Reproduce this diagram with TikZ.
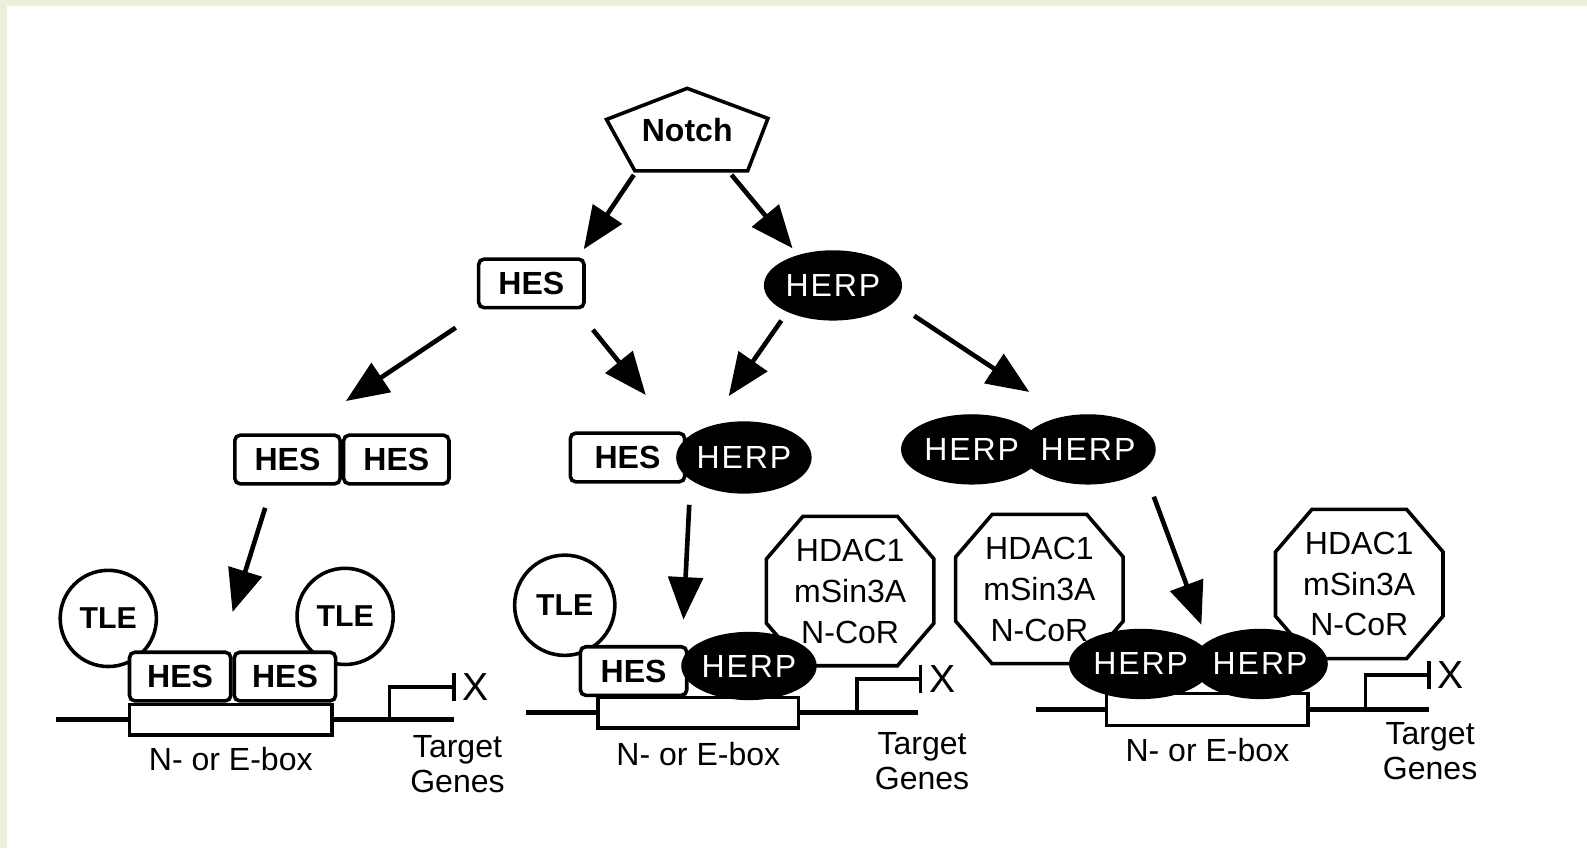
\documentclass[tikz,border=0pt]{standalone}
\usepackage{fontspec}
\setmainfont{Liberation Sans}
\setsansfont{Liberation Sans}
\usetikzlibrary{calc}
\usetikzlibrary{arrows.meta}
\usetikzlibrary{shapes.geometric}
\definecolor{slidegreen}{RGB}{234,239,220}
\tikzset{
  lbl/.style={font=\fontsize{9}{10}\selectfont, inner sep=0pt, align=center},
  bigx/.style={font=\fontsize{11}{12}\selectfont, inner sep=0pt},
  hesbox/.style={draw, line width=1pt, fill=white, rounded corners=1.5pt, minimum width=1.04cm, minimum height=0.48cm, inner sep=0pt, font=\bfseries\fontsize{9}{10}\selectfont},
  herpblob/.style={ellipse, fill=black, draw=black, inner sep=0pt, minimum width=1.32cm, minimum height=0.68cm, text=white, font=\fontsize{9}{10}\selectfont\addfontfeature{LetterSpace=6}},
  tlecirc/.style={circle, draw, line width=1pt, fill=white, minimum size=0.95cm, inner sep=0pt, font=\bfseries\fontsize{8.5}{10}\selectfont},
  hdacbox/.style={inner sep=0pt, minimum width=1.64cm, minimum height=1.46cm},
  hdactxt/.style={lbl, font=\fontsize{9}{11.5}\selectfont},
  eboxrect/.style={draw, line width=1pt, fill=white, minimum width=2.0cm, minimum height=0.30cm, inner sep=0pt},
  dna/.style={line width=1.3pt},
  promo/.style={line width=1pt, -{Bar[width=0.28cm]}},
  arr/.style={line width=1.3pt, -{Triangle[length=0.42cm,width=0.34cm]}},
}
% octagon round a named node (corner cuts in px)
\def\cutX{36}
\def\cutY{42}
\newcommand{\hdacoct}[1]{%
  \draw[line width=1pt, fill=white]
    ($(#1.north west)+(\cutX,0)$) -- ($(#1.north east)+(-\cutX,0)$)
    -- ($(#1.north east)+(0,\cutY)$) -- ($(#1.south east)+(0,-\cutY)$)
    -- ($(#1.south east)+(-\cutX,0)$) -- ($(#1.south west)+(\cutX,0)$)
    -- ($(#1.south west)+(0,-\cutY)$) -- ($(#1.north west)+(0,\cutY)$) -- cycle;}
\begin{document}
\begin{tikzpicture}[x=0.01cm,y=-0.01cm]
% slide frame
\fill[slidegreen] (0,0) rectangle (1568,838);
\fill[white] (7,6) rectangle (1568,838);
\useasboundingbox (0,0) rectangle (1568,838);

% Notch and its two targets
\node[lbl, font=\bfseries\fontsize{9}{10}\selectfont, minimum width=1.58cm, minimum height=0.8cm] (notch) at (679,128) {Notch};
\draw[line width=1pt] (notch.north) -- ($(notch.west)+(0,-10)$) -- ($(notch.south west)+(28,0)$) -- ($(notch.south east)+(-20,0)$) -- ($(notch.east)+(0,-11)$) -- cycle;
\node[hesbox] (hes) at (525,280) {HES};
\node[herpblob, minimum width=1.35cm] (herp) at (823,282) {HERP};
\draw[arr] ($(notch.south west)+(27,4)$) -- ($(hes.north east)+(-2,-8)$);
\draw[arr] ($(notch.south east)+(-36,4)$) -- ($(herp.north)+(-40,-2)$);

% dimers
\node[hesbox] (hesA) at (284,454) {HES};
\node[hesbox, anchor=west] (hesB) at (hesA.east) {HES};
\node[hesbox, minimum width=1.13cm] (hesC) at (620,452) {HES};
\node[herpblob, minimum height=0.7cm] (herpC) at (735,452) {HERP};
\node[herpblob, minimum width=1.38cm] (herpD) at (960,444) {HERP};
\node[herpblob, minimum width=1.25cm] (herpE) at (1075,444) {HERP};
\draw[arr] ($(hes.south west)+(-21,18)$) -- ($(hesA.north east)+(4,-32)$);
\draw[arr] ($(hes.south east)+(7,20)$) -- ($(hesC.north)+(18,-36)$);
\draw[arr] ($(herp.south)+(-51,0)$) -- ($(herpC.north)+(-15,-25)$);
\draw[arr] ($(herp.east)+(12,30)$) -- ($(herpD.north)+(57,-22)$);

% panel 1: HES-HES with TLE
\node[eboxrect] (ebox1) at (228,711) {};
\draw[dna] (ebox1.west) -- ++(-71,0);
\draw[dna] (ebox1.east) -- ++(119,0);
\node[tlecirc] (tle1a) at (107,611) {TLE};
\node[tlecirc] (tle1b) at (341,609) {TLE};
\node[hesbox, minimum width=1.0cm, anchor=south west] (hes1a) at (ebox1.north west) {HES};
\node[hesbox, minimum width=1.0cm, anchor=west] (hes1b) at (hes1a.east) {HES};
\node[bigx] (x1) at (470,679) {X};
\draw[promo] ($(ebox1.east)+(55,0)$) |- ($(x1.west)+(-6,0)$);
\node[lbl] (box1lbl) at ($(ebox1.south)+(0,22)$) {N- or E-box};
\node[lbl] (tg1) at (452,755) {Target\\Genes};
\draw[arr] ($(hesA.south)+(-22,22)$) -- ($(hes1a.north east)+(0,-38)$);

% panel 2: HES-HERP
\node[eboxrect, minimum width=1.98cm] (ebox2) at (690,704) {};
\draw[dna] (ebox2.west) -- ++(-69,0);
\draw[dna] (ebox2.east) -- ++(116,0);
\node[tlecirc, minimum size=0.99cm] (tle2) at (558,598) {TLE};
\node[hdacbox] (hdac2) at (840,584) {};
\hdacoct{hdac2}
\node[hdactxt] (hdac2txt) at (hdac2) {HDAC1\\mSin3A\\N-CoR};
\node[hesbox, minimum width=1.05cm] (hes2) at (626,663) {HES};
\node[herpblob, minimum height=0.66cm] (herp2) at (740,658) {HERP};
\node[bigx] (x2) at (931,671) {X};
\draw[promo] ($(ebox2.east)+(56,0)$) |- ($(x2.west)+(-6,0)$);
\node[lbl] (box2lbl) at ($(ebox2.south)+(0,24)$) {N- or E-box};
\node[lbl] (tg2) at (911,752) {Target\\Genes};
\draw[arr] ($(herpC.south)+(-54,11)$) -- ($(hes2.north east)+(-5,-25)$);

% panel 3: HERP-HERP
\node[eboxrect, minimum width=1.99cm, minimum height=0.32cm] (ebox3) at (1193,701) {};
\draw[dna] (ebox3.west) -- ++(-68,0);
\draw[dna] (ebox3.east) -- ++(118,0);
\node[hdacbox] (hdac3a) at (1027,582) {};
\hdacoct{hdac3a}
\node[hdactxt] (hdac3atxt) at (hdac3a) {HDAC1\\mSin3A\\N-CoR};
\node[hdacbox] (hdac3b) at (1343,577) {};
\hdacoct{hdac3b}
\node[hdactxt] (hdac3btxt) at (hdac3b) {HDAC1\\mSin3A\\N-CoR};
\node[herpblob, minimum width=1.4cm] (herp3a) at (1127,656) {HERP};
\node[herpblob, minimum width=1.24cm] (herp3b) at (1245,656) {HERP};
\node[bigx] (x3) at (1433,667) {X};
\draw[promo] ($(ebox3.east)+(55,0)$) |- ($(x3.west)+(-6,0)$);
\node[lbl] (box3lbl) at ($(ebox3.south)+(0,22)$) {N- or E-box};
\node[lbl] (tg3) at (1413,742) {Target\\Genes};
\draw[arr] ($(herpE.south)+(65,12)$) -- ($(herp3b.north)+(-58,-4)$);
\end{tikzpicture}
\end{document}
